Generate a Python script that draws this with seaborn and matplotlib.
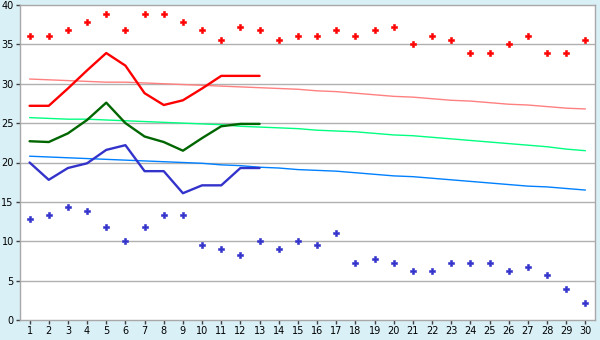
import numpy as np
import pandas as pd
import matplotlib
matplotlib.use("Agg")
import matplotlib.pyplot as plt
import seaborn as sns

days = list(range(1, 31))
red_dots = [36.1, 36.1, 36.8, 37.8, 38.9, 36.8, 38.9, 38.9, 37.8, 36.8,
            35.6, 37.2, 36.8, 35.6, 36.1, 36.1, 36.8, 36.1, 36.8, 37.2,
            35.0, 36.1, 35.6, 33.9, 33.9, 35.0, 36.1, 33.9, 33.9, 35.6]
blue_dots = [12.8, 13.3, 14.4, 13.9, 11.8, 10.0, 11.8, 13.3, 13.3, 9.5,
             9.0, 8.3, 10.0, 9.0, 10.0, 9.5, 11.1, 7.2, 7.8, 7.2,
             6.2, 6.2, 7.2, 7.2, 7.2, 6.2, 6.7, 5.7, 3.9, 2.2]
line_days = list(range(1, 14))
red_line = [27.2, 27.2, 29.4, 31.7, 33.9, 32.3, 28.8, 27.3, 27.9, 29.4, 31.0, 31.0, 31.0]
green_line = [22.7, 22.6, 23.7, 25.4, 27.6, 25.0, 23.3, 22.6, 21.5, 23.1, 24.6, 24.9, 24.9]
blue_line = [20.0, 17.8, 19.3, 19.9, 21.6, 22.2, 18.9, 18.9, 16.1, 17.1, 17.1, 19.3, 19.3]
pink_trend = [30.6, 30.5, 30.4, 30.3, 30.2, 30.2, 30.1, 30.0, 29.9, 29.8,
              29.7, 29.6, 29.5, 29.4, 29.3, 29.1, 29.0, 28.8, 28.6, 28.4,
              28.3, 28.1, 27.9, 27.8, 27.6, 27.4, 27.3, 27.1, 26.9, 26.8]
lgreen_trend = [25.7, 25.6, 25.5, 25.5, 25.4, 25.3, 25.2, 25.1, 25.0, 24.9,
                24.8, 24.6, 24.5, 24.4, 24.3, 24.1, 24.0, 23.9, 23.7, 23.5,
                23.4, 23.2, 23.0, 22.8, 22.6, 22.4, 22.2, 22.0, 21.7, 21.5]
lblue_trend = [20.8, 20.7, 20.6, 20.5, 20.4, 20.3, 20.2, 20.1, 20.0, 19.9,
               19.7, 19.6, 19.4, 19.3, 19.1, 19.0, 18.9, 18.7, 18.5, 18.3,
               18.2, 18.0, 17.8, 17.6, 17.4, 17.2, 17.0, 16.9, 16.7, 16.5]
y_ticks = [0, 5, 10, 15, 20, 25, 30, 35, 40]

sns.set_style("white")
plt.rcParams['font.family'] = ['DejaVu Sans']

fig = plt.figure(figsize=(6, 3.4), dpi=100, facecolor="#daf0f7")
ax = fig.add_axes([20/600, 20/340, 575/600, 315/340])
ax.set_facecolor("white")

for yt in y_ticks[1:-1]:
    ax.axhline(yt, color="#b0b0b0", lw=1.0, zorder=0)

full = pd.DataFrame({"day": days, "pink": pink_trend, "lgreen": lgreen_trend,
                     "lblue": lblue_trend, "rdot": red_dots, "bdot": blue_dots})
part = pd.DataFrame({"day": line_days, "red": red_line, "green": green_line, "blue": blue_line})

sns.lineplot(data=full, x="day", y="pink", color="#ff8080", lw=1.0, ax=ax)
sns.lineplot(data=full, x="day", y="lgreen", color="#00ff80", lw=1.0, ax=ax)
sns.lineplot(data=full, x="day", y="lblue", color="#0080ff", lw=1.0, ax=ax)
sns.lineplot(data=part, x="day", y="red", color="#ff0000", lw=1.7, ax=ax)
sns.lineplot(data=part, x="day", y="green", color="#006600", lw=1.7, ax=ax)
sns.lineplot(data=part, x="day", y="blue", color="#3333cc", lw=1.7, ax=ax)
sns.scatterplot(data=full, x="day", y="rdot", color="#ff0000", marker="P", s=18,
                linewidth=0.4, edgecolor="#ff0000", ax=ax, zorder=5)
sns.scatterplot(data=full, x="day", y="bdot", color="#3333cc", marker="P", s=18,
                linewidth=0.4, edgecolor="#3333cc", ax=ax, zorder=5)

ax.set_xlim(0.5, 30.5)
ax.set_ylim(0, 40)
ax.set_xticks(days)
ax.set_xticklabels([str(d) for d in days])
ax.set_yticks(y_ticks)
ax.set_xlabel("")
ax.set_ylabel("")
for s in ax.spines.values():
    s.set_color("#a8a8a8")
    s.set_linewidth(1.0)
ax.tick_params(axis="both", length=3, width=1, color="#404040", labelsize=7,
               labelcolor="black", pad=1.5, direction="out", bottom=True, left=True)

fig.savefig("out.png", dpi=100, facecolor=fig.get_facecolor())
